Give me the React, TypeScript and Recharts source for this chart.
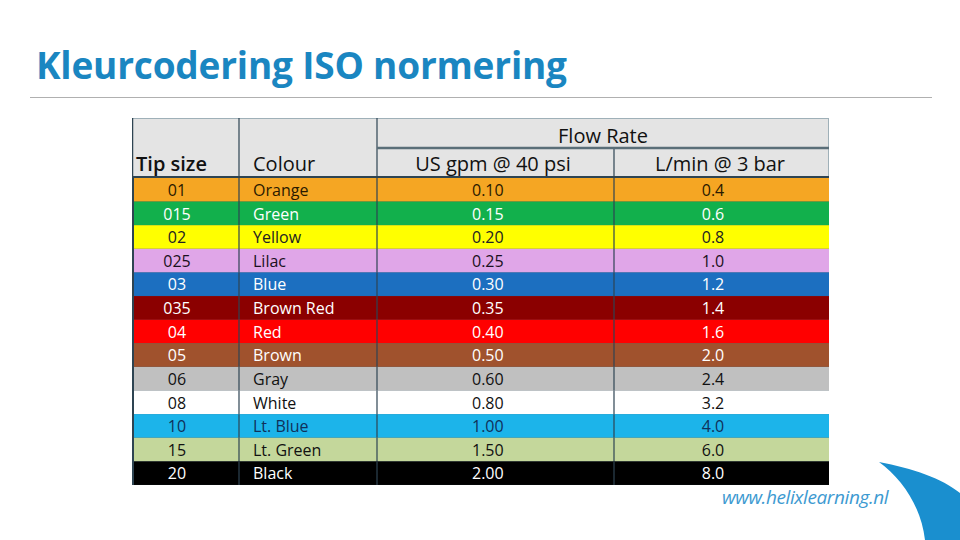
import React from "react";
import { BarChart, Bar, XAxis, YAxis } from "recharts";

const tipSizes = ["01", "015", "02", "025", "03", "035", "04", "05", "06", "08", "10", "15", "20"];
const colourNames = [
  "Orange", "Green", "Yellow", "Lilac", "Blue", "Brown Red", "Red",
  "Brown", "Gray", "White", "Lt. Blue", "Lt. Green", "Black",
];
const usGpm = [0.1, 0.15, 0.2, 0.25, 0.3, 0.35, 0.4, 0.5, 0.6, 0.8, 1.0, 1.5, 2.0];
const litresPerMin = [0.4, 0.6, 0.8, 1.0, 1.2, 1.4, 1.6, 2.0, 2.4, 3.2, 4.0, 6.0, 8.0];

// row styling
const rowFills = [
  "#f5a623", "#12b04c", "#ffff00", "#e0a6e8", "#1c6fc0", "#8b0000", "#ff0000",
  "#a0522d", "#c0c0c0", "#ffffff", "#1cb4ea", "#c4d79b", "#000000",
];
const rowInk = [
  "#2a1a00", "#ffffff", "#222222", "#1a1020", "#ffffff", "#ffffff", "#ffffff",
  "#ffffff", "#111111", "#111111", "#10305a", "#111111", "#ffffff",
];

const rows = tipSizes.map((tip, i) => ({
  tip,
  colour: colourNames[i],
  gpm: usGpm[i],
  lpm: litresPerMin[i],
  fill: rowFills[i],
  ink: rowInk[i],
  span: 1,
}));

const TABLE_W = 697;
const COLS = [107, 245, 482]; // column boundaries inside the table
const GRID = "#2e4452";
const FONT = "'Open Sans', 'Noto Sans', sans-serif";

const RowShape = (props: any) => {
  const { x, y, width, height, payload } = props;
  const mid = y + height / 2;
  const common = { fontFamily: FONT, fontSize: 16, fill: payload.ink, dominantBaseline: "central" as const };
  return (
    <g>
      <rect x={x} y={y} width={width} height={height} fill={payload.fill} />
      <line x1={x} x2={x + width} y1={y + height} y2={y + height} stroke={GRID} strokeOpacity={0.7} />
      {COLS.map((c) => (
        <line key={c} x1={x + c} x2={x + c} y1={y} y2={y + height} stroke={GRID} strokeWidth={1.2} />
      ))}
      <text x={x + 45} y={mid} textAnchor="middle" {...common}>{payload.tip}</text>
      <text x={x + 121} y={mid} {...common}>{payload.colour}</text>
      <text x={x + 340} y={mid} {...common}>{payload.gpm.toFixed(2)}</text>
      <text x={x + 581} y={mid} textAnchor="middle" {...common}>{payload.lpm.toFixed(1)}</text>
    </g>
  );
};

const Header = () => (
  <svg width={TABLE_W} height={60} style={{ position: "absolute", left: 132, top: 118 }}>
    <rect x={0} y={0} width={TABLE_W} height={60} fill="#e4e4e4" />
    <rect x={0.5} y={0.5} width={TABLE_W - 1} height={60} fill="none" stroke="#9fb0b8" />
    <line x1={COLS[0]} x2={COLS[0]} y1={0} y2={60} stroke={GRID} strokeWidth={1.2} />
    <line x1={COLS[1]} x2={COLS[1]} y1={0} y2={60} stroke={GRID} strokeWidth={1.2} />
    <line x1={COLS[2]} x2={COLS[2]} y1={30} y2={60} stroke={GRID} strokeWidth={1.2} />
    <line x1={COLS[1]} x2={TABLE_W} y1={30} y2={30} stroke="#5a6e78" strokeWidth={2.5} />
    <line x1={0} x2={TABLE_W} y1={59} y2={59} stroke={GRID} strokeWidth={2} />
    <line x1={0.5} x2={0.5} y1={0} y2={60} stroke={GRID} strokeWidth={1.5} />
    <g fontFamily={FONT} fontSize={20} fontWeight={500} fill="#111">
      <text x={(COLS[1] + TABLE_W) / 2} y={25} textAnchor="middle">Flow Rate</text>
      <text x={4} y={53} fontWeight={600}>Tip size</text>
      <text x={121} y={53}>Colour</text>
      <text x={361} y={53} textAnchor="middle">US gpm @ 40 psi</text>
      <text x={588} y={53} textAnchor="middle">L/min @ 3 bar</text>
    </g>
  </svg>
);

export default function App() {
  return (
    <div style={{ position: "absolute", left: 0, top: 0, width: 960, height: 540, background: "#fff", overflow: "hidden" }}>
      <div
        style={{
          position: "absolute", left: 36, top: 38, fontFamily: FONT, fontWeight: 700,
          fontSize: 37, color: "#1a86c1", lineHeight: "54px", letterSpacing: -0.2,
        }}
      >
        Kleurcodering ISO normering
      </div>
      <div style={{ position: "absolute", left: 30, top: 97, width: 902, height: 1, background: "#b0b0b0" }} />
      <Header />
      <div style={{ position: "absolute", left: 132, top: 178 }}>
        <BarChart
          width={TABLE_W}
          height={307}
          data={rows}
          layout="vertical"
          margin={{ top: 0, right: 0, bottom: 0, left: 0 }}
          barCategoryGap={0}
        >
          <XAxis type="number" domain={[0, 1]} hide />
          <YAxis type="category" dataKey="tip" hide />
          <Bar dataKey="span" isAnimationActive={false} shape={RowShape} />
        </BarChart>
        <div style={{ position: "absolute", left: 0, top: 0, width: 1.5, height: 307, background: GRID }} />
      </div>
      <div
        style={{
          position: "absolute", left: 722, top: 484, fontFamily: FONT, fontStyle: "italic",
          fontSize: 19, color: "#3d9ad1", letterSpacing: -0.4,
        }}
      >
        www.helixlearning.nl
      </div>
      <svg width={960} height={540} style={{ position: "absolute", left: 0, top: 0, pointerEvents: "none" }}>
        <path d="M879,462 C912,468 943,479 960,493 L960,540 L925,540 C921,506 902,479 879,462 Z" fill="#1a8fcf" />
      </svg>
    </div>
  );
}
